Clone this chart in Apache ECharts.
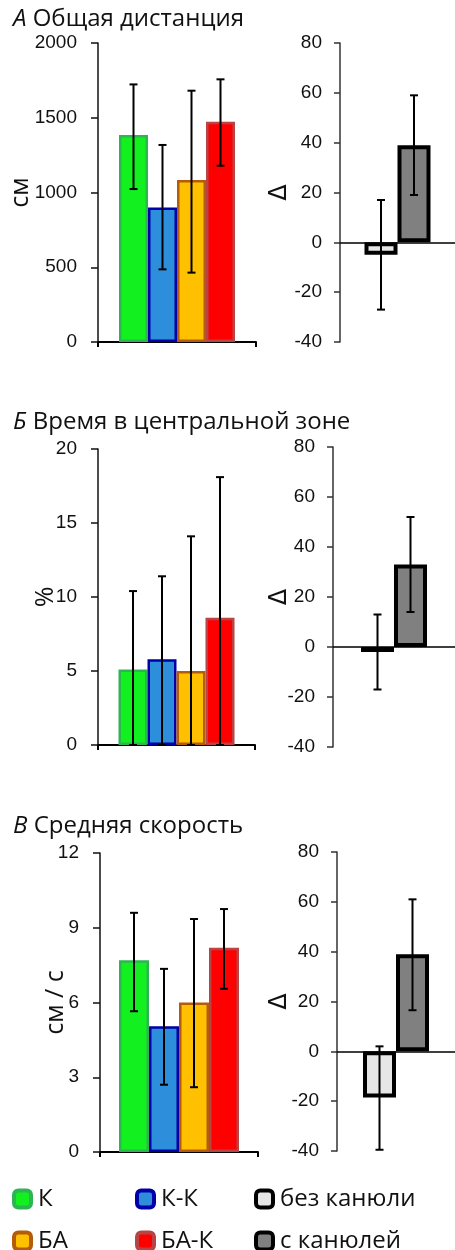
<!DOCTYPE html>
<html><head><meta charset="utf-8">
<script src="https://cdn.jsdelivr.net/npm/echarts@6/dist/echarts.min.js"></script>
<style>html,body{margin:0;padding:0;background:#fff}#c{width:455px;height:1250px}</style>
</head><body><div id="c"></div>
<script>
const groups = ['К', 'К-К', 'БА', 'БА-К'];
const deltaGroups = ['без канюли', 'с канюлей'];

// А Общая дистанция
const distMean = [1385, 900, 1084, 1474];
const distLow = [1023, 486, 464, 1179];
const distHigh = [1723, 1318, 1681, 1757];
const distTicks = [0, 500, 1000, 1500, 2000];
const distDelta = [-5, 39];
const distDeltaLow = [-27, 19];
const distDeltaHigh = [17, 59];

// Б Время в центральной зоне
const zoneMean = [5.1, 5.8, 5.0, 8.6];
const zoneLow = [0, 0, 0, 0];
const zoneHigh = [10.4, 11.4, 14.1, 18.1];
const zoneTicks = [0, 5, 10, 15, 20];
const zoneDelta = [-2, 33];
const zoneDeltaLow = [-17, 14];
const zoneDeltaHigh = [13, 52];

// В Средняя скорость
const speedMean = [7.7, 5.05, 6.0, 8.2];
const speedLow = [5.65, 2.7, 2.6, 6.55];
const speedHigh = [9.6, 7.35, 9.35, 9.75];
const speedTicks = [0, 3, 6, 9, 12];
const speedDelta = [-18.5, 39];
const speedDeltaLow = [-39.5, 16.5];
const speedDeltaHigh = [2, 61];

const deltaTicks = [-40, -20, 0, 20, 40, 60, 80];

const groupFill = ['#12f020', '#2d8edb', '#ffc000', '#ff0000'];
const groupBorder = ['#2db552', '#0000a8', '#b45c0a', '#b84545'];
const deltaFill = ['#e6e6e6', '#808080'];

const tickFont = 'Liberation Sans, Arial, sans-serif';
const textFont = 'Open Sans, Noto Sans, sans-serif';

const panels = [
  {title: 'А', rest: ' Общая дистанция', titleTop: 2, yName: 'см', nameGap: 65,
   mean: distMean, low: distLow, high: distHigh, ticks: distTicks,
   delta: distDelta, dLow: distDeltaLow, dHigh: distDeltaHigh,
   g1: {left: 98, top: 43, width: 158, height: 299}, bw: 29,
   g2: {left: 340, top: 43, width: 118, height: 299}, dGap: 48},
  {title: 'Б', rest: ' Время в центральной зоне', titleTop: 405, yName: '%', nameGap: 40,
   mean: zoneMean, low: zoneLow, high: zoneHigh, ticks: zoneTicks,
   delta: zoneDelta, dLow: zoneDeltaLow, dHigh: zoneDeltaHigh,
   g1: {left: 98, top: 449, width: 157, height: 296}, bw: 29,
   g2: {left: 333, top: 447, width: 132, height: 300}, dGap: 41},
  {title: 'В', rest: ' Средняя скорость', titleTop: 809, yName: 'см / с', nameGap: 32,
   mean: speedMean, low: speedLow, high: speedHigh, ticks: speedTicks,
   delta: speedDelta, dLow: speedDeltaLow, dHigh: speedDeltaHigh,
   g1: {left: 100, top: 853, width: 158, height: 299}, bw: 30,
   g2: {left: 337, top: 852, width: 124, height: 299}, dGap: 45}
];

function errRenderer(n, bw) {
  return function (params, api) {
    const g = api.value(1), lo = api.value(2), hi = api.value(3);
    const pHi = api.coord([0, hi]);
    const pLo = api.coord([0, lo]);
    const x = pHi[0] + (g - (n - 1) / 2) * bw;
    const cap = 4;
    const st = {stroke: '#000', lineWidth: 2};
    return {type: 'group', children: [
      {type: 'line', shape: {x1: x, y1: pHi[1], x2: x, y2: pLo[1]}, style: st},
      {type: 'line', shape: {x1: x - cap, y1: pHi[1], x2: x + cap, y2: pHi[1]}, style: st},
      {type: 'line', shape: {x1: x - cap, y1: pLo[1], x2: x + cap, y2: pLo[1]}, style: st}
    ]};
  };
}

const plain = v => String(v);

const grid = [], xAxis = [], yAxis = [], series = [], title = [];
panels.forEach((p, pi) => {
  const i1 = pi * 2, i2 = pi * 2 + 1;
  grid.push(Object.assign({containLabel: false}, p.g1));
  grid.push(Object.assign({containLabel: false}, p.g2));
  title.push({
    text: '{i|' + p.title + '}{n|' + p.rest + '}', left: 8, top: p.titleTop,
    textStyle: {fontWeight: 'normal', rich: {
      i: {fontFamily: textFont, fontSize: 24, fontStyle: 'italic', fontWeight: 'normal', color: '#111'},
      n: {fontFamily: textFont, fontSize: 24, fontWeight: 'normal', color: '#111'}
    }}
  });
  xAxis.push({gridIndex: i1, type: 'category', data: [''], boundaryGap: true,
    axisLine: {lineStyle: {color: '#000', width: 2}},
    axisTick: {show: true, length: 5, lineStyle: {color: '#000', width: 2}},
    axisLabel: {show: false}});
  xAxis.push({gridIndex: i2, type: 'category', data: [''], boundaryGap: true,
    axisLine: {onZero: true, lineStyle: {color: '#000', width: 1.5}},
    axisTick: {show: false}, axisLabel: {show: false}});
  const t = p.ticks;
  yAxis.push({gridIndex: i1, type: 'value', min: t[0], max: t[t.length - 1], interval: t[1] - t[0],
    name: p.yName, nameLocation: 'middle', nameRotate: 90, nameGap: p.nameGap, nameMoveOverlap: false,
    nameTextStyle: {fontFamily: textFont, fontSize: 25, color: '#111'},
    axisLine: {show: true, lineStyle: {color: '#111', width: 1.5}},
    axisTick: {show: true, inside: false, length: 7, lineStyle: {color: '#111', width: 1.5}},
    axisLabel: {fontFamily: tickFont, fontSize: 19, color: '#111', margin: 21, formatter: plain},
    splitLine: {show: false}});
  yAxis.push({gridIndex: i2, type: 'value', min: deltaTicks[0], max: deltaTicks[deltaTicks.length - 1],
    interval: deltaTicks[1] - deltaTicks[0],
    name: 'Δ', nameLocation: 'middle', nameRotate: 90, nameGap: p.dGap, nameMoveOverlap: false,
    nameTextStyle: {fontFamily: 'DejaVu Sans, sans-serif', fontSize: 24, color: '#111'},
    axisLine: {show: true, onZero: false, lineStyle: {color: '#333', width: 1.5}},
    axisTick: {show: true, length: 6, lineStyle: {color: '#333', width: 1.5}},
    axisLabel: {fontFamily: tickFont, fontSize: 19, color: '#111', margin: 18, formatter: plain},
    splitLine: {show: false}});
  groups.forEach((g, gi) => {
    series.push({type: 'bar', name: g, xAxisIndex: i1, yAxisIndex: i1,
      data: [p.mean[gi]], barWidth: p.bw, barGap: '0%',
      itemStyle: {color: groupFill[gi], borderColor: groupBorder[gi], borderWidth: 2.5},
      emphasis: {disabled: true}, z: 2});
  });
  series.push({type: 'custom', xAxisIndex: i1, yAxisIndex: i1, renderItem: errRenderer(groups.length, p.bw),
    data: groups.map((g, gi) => [0, gi, p.low[gi], p.high[gi]]), z: 5, silent: true});
  deltaGroups.forEach((g, gi) => {
    series.push({type: 'bar', name: g, xAxisIndex: i2, yAxisIndex: i2,
      data: [p.delta[gi]], barWidth: 33, barGap: '0%',
      itemStyle: {color: deltaFill[gi], borderColor: '#000', borderWidth: 4},
      emphasis: {disabled: true}, z: 2});
  });
  series.push({type: 'custom', xAxisIndex: i2, yAxisIndex: i2, renderItem: errRenderer(deltaGroups.length, 33),
    data: deltaGroups.map((g, gi) => [0, gi, p.dLow[gi], p.dHigh[gi]]), z: 5, silent: true});
});

const legendNames = [groups[0], groups[1], deltaGroups[0], groups[2], groups[3], deltaGroups[1]];
const legendStyles = [
  {color: groupFill[0], borderColor: groupBorder[0]},
  {color: groupFill[1], borderColor: groupBorder[1]},
  {color: deltaFill[0], borderColor: '#000'},
  {color: groupFill[2], borderColor: groupBorder[2]},
  {color: groupFill[3], borderColor: groupBorder[3]},
  {color: deltaFill[1], borderColor: '#000'}
];
const legendLeft = [12, 135, 254];
const legendTop = [1187, 1229];
const legend = legendNames.map((name, k) => ({
  left: legendLeft[k % 3], top: legendTop[Math.floor(k / 3)], padding: 0,
  itemWidth: 17, itemHeight: 17, icon: 'roundRect', selectedMode: false,
  textStyle: {fontFamily: textFont, fontSize: 24, color: '#111', padding: [0, 0, 0, 2]},
  data: [{name: name, itemStyle: Object.assign({borderWidth: 4}, legendStyles[k])}]
}));

const chart = echarts.init(document.getElementById('c'), null, {renderer: 'canvas'});
chart.setOption({animation: false, backgroundColor: '#fff', title, grid, xAxis, yAxis, series, legend});
</script></body></html>
